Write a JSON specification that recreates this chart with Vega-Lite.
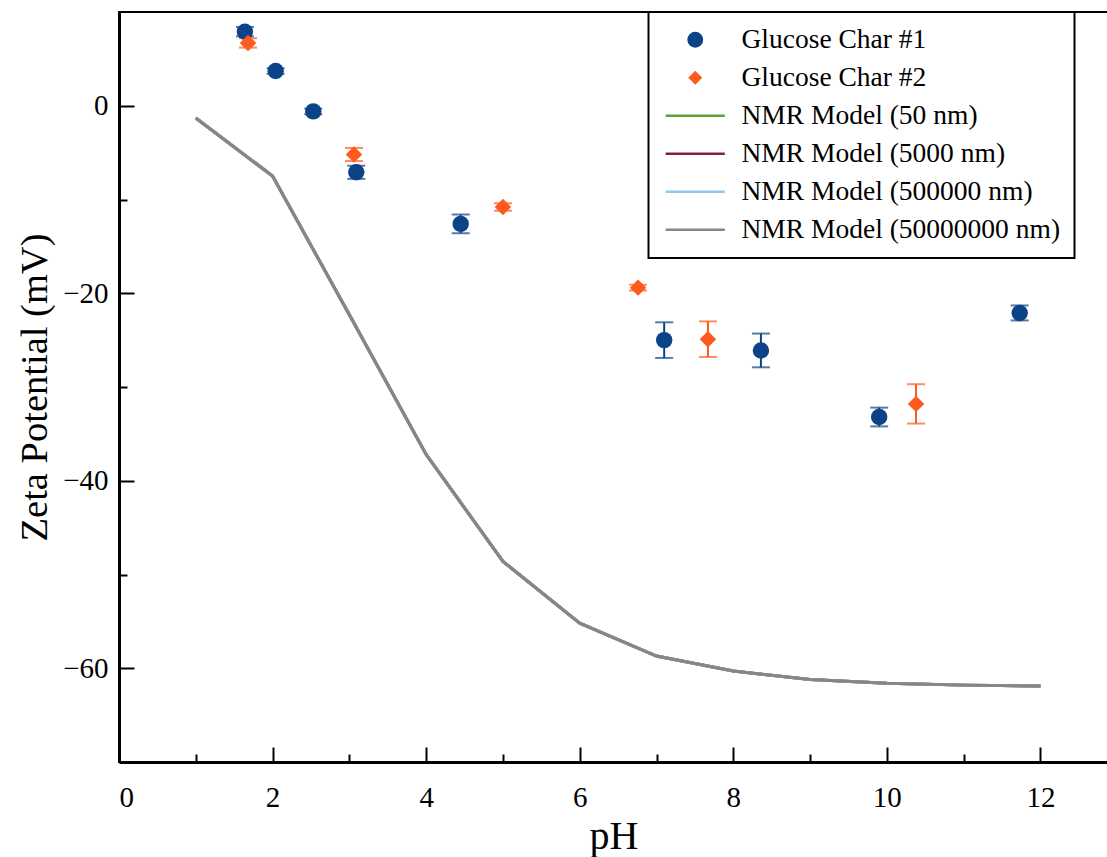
{
  "$schema": "https://vega.github.io/schema/vega-lite/v6.json",
  "width": 989,
  "height": 750,
  "autosize": {"type": "none"},
  "padding": {"left": 119, "top": 12, "right": 0, "bottom": 95},
  "background": "white",
  "config": {
    "font": "Liberation Serif",
    "view": {"stroke": "black", "strokeWidth": 2},
    "axis": {
      "grid": false,
      "domainColor": "black",
      "domainWidth": 3,
      "tickColor": "black",
      "tickWidth": 2,
      "labelColor": "black",
      "titleColor": "black",
      "labelFont": "Liberation Serif",
      "titleFont": "Liberation Serif",
      "labelFontSize": 29,
      "titleFontSize": 38.5,
      "titleFontWeight": "normal"
    }
  },
  "datasets": {
    "meas": [
      {"series": "Glucose Char #1", "pH": 1.64, "zeta": 7.9, "err": 0.5},
      {"series": "Glucose Char #1", "pH": 2.04, "zeta": 3.7, "err": 0.3},
      {"series": "Glucose Char #1", "pH": 2.53, "zeta": -0.6, "err": 0.3},
      {"series": "Glucose Char #1", "pH": 3.09, "zeta": -7.1, "err": 0.7},
      {"series": "Glucose Char #1", "pH": 4.45, "zeta": -12.6, "err": 1.0},
      {"series": "Glucose Char #1", "pH": 7.10, "zeta": -25.0, "err": 1.9},
      {"series": "Glucose Char #1", "pH": 8.36, "zeta": -26.1, "err": 1.8},
      {"series": "Glucose Char #1", "pH": 9.90, "zeta": -33.2, "err": 1.0},
      {"series": "Glucose Char #1", "pH": 11.73, "zeta": -22.1, "err": 0.8},
      {"series": "Glucose Char #2", "pH": 1.68, "zeta": 6.7, "err": 0.5},
      {"series": "Glucose Char #2", "pH": 3.06, "zeta": -5.2, "err": 0.7},
      {"series": "Glucose Char #2", "pH": 5.00, "zeta": -10.8, "err": 0.4},
      {"series": "Glucose Char #2", "pH": 6.76, "zeta": -19.4, "err": 0.3},
      {"series": "Glucose Char #2", "pH": 7.67, "zeta": -24.9, "err": 1.9},
      {"series": "Glucose Char #2", "pH": 10.38, "zeta": -31.8, "err": 2.1}
    ],
    "model": [
      {"series": "NMR Model (50 nm)", "pH": 1, "zeta": -1.3},
      {"series": "NMR Model (50 nm)", "pH": 2, "zeta": -7.5},
      {"series": "NMR Model (50 nm)", "pH": 3, "zeta": -22.3},
      {"series": "NMR Model (50 nm)", "pH": 4, "zeta": -37.2},
      {"series": "NMR Model (50 nm)", "pH": 5, "zeta": -48.6},
      {"series": "NMR Model (50 nm)", "pH": 6, "zeta": -55.2},
      {"series": "NMR Model (50 nm)", "pH": 7, "zeta": -58.7},
      {"series": "NMR Model (50 nm)", "pH": 8, "zeta": -60.3},
      {"series": "NMR Model (50 nm)", "pH": 9, "zeta": -61.2},
      {"series": "NMR Model (50 nm)", "pH": 10, "zeta": -61.6},
      {"series": "NMR Model (50 nm)", "pH": 11, "zeta": -61.8},
      {"series": "NMR Model (50 nm)", "pH": 12, "zeta": -61.9},
      {"series": "NMR Model (5000 nm)", "pH": 1, "zeta": -1.3},
      {"series": "NMR Model (5000 nm)", "pH": 2, "zeta": -7.5},
      {"series": "NMR Model (5000 nm)", "pH": 3, "zeta": -22.3},
      {"series": "NMR Model (5000 nm)", "pH": 4, "zeta": -37.2},
      {"series": "NMR Model (5000 nm)", "pH": 5, "zeta": -48.6},
      {"series": "NMR Model (5000 nm)", "pH": 6, "zeta": -55.2},
      {"series": "NMR Model (5000 nm)", "pH": 7, "zeta": -58.7},
      {"series": "NMR Model (5000 nm)", "pH": 8, "zeta": -60.3},
      {"series": "NMR Model (5000 nm)", "pH": 9, "zeta": -61.2},
      {"series": "NMR Model (5000 nm)", "pH": 10, "zeta": -61.6},
      {"series": "NMR Model (5000 nm)", "pH": 11, "zeta": -61.8},
      {"series": "NMR Model (5000 nm)", "pH": 12, "zeta": -61.9},
      {"series": "NMR Model (500000 nm)", "pH": 1, "zeta": -1.3},
      {"series": "NMR Model (500000 nm)", "pH": 2, "zeta": -7.5},
      {"series": "NMR Model (500000 nm)", "pH": 3, "zeta": -22.3},
      {"series": "NMR Model (500000 nm)", "pH": 4, "zeta": -37.2},
      {"series": "NMR Model (500000 nm)", "pH": 5, "zeta": -48.6},
      {"series": "NMR Model (500000 nm)", "pH": 6, "zeta": -55.2},
      {"series": "NMR Model (500000 nm)", "pH": 7, "zeta": -58.7},
      {"series": "NMR Model (500000 nm)", "pH": 8, "zeta": -60.3},
      {"series": "NMR Model (500000 nm)", "pH": 9, "zeta": -61.2},
      {"series": "NMR Model (500000 nm)", "pH": 10, "zeta": -61.6},
      {"series": "NMR Model (500000 nm)", "pH": 11, "zeta": -61.8},
      {"series": "NMR Model (500000 nm)", "pH": 12, "zeta": -61.9},
      {"series": "NMR Model (50000000 nm)", "pH": 1, "zeta": -1.3},
      {"series": "NMR Model (50000000 nm)", "pH": 2, "zeta": -7.5},
      {"series": "NMR Model (50000000 nm)", "pH": 3, "zeta": -22.3},
      {"series": "NMR Model (50000000 nm)", "pH": 4, "zeta": -37.2},
      {"series": "NMR Model (50000000 nm)", "pH": 5, "zeta": -48.6},
      {"series": "NMR Model (50000000 nm)", "pH": 6, "zeta": -55.2},
      {"series": "NMR Model (50000000 nm)", "pH": 7, "zeta": -58.7},
      {"series": "NMR Model (50000000 nm)", "pH": 8, "zeta": -60.3},
      {"series": "NMR Model (50000000 nm)", "pH": 9, "zeta": -61.2},
      {"series": "NMR Model (50000000 nm)", "pH": 10, "zeta": -61.6},
      {"series": "NMR Model (50000000 nm)", "pH": 11, "zeta": -61.8},
      {"series": "NMR Model (50000000 nm)", "pH": 12, "zeta": -61.9}
    ]
  },
  "layer": [
    {
      "data": {"name": "model"},
      "mark": {"type": "line", "strokeWidth": 3},
      "encoding": {
        "x": {
          "field": "pH", "type": "quantitative",
          "scale": {"domain": [0, 12.88], "nice": false, "zero": false},
          "axis": {"orient": "bottom", "values": [0, 2, 4, 6, 8, 10, 12], "tickSize": -15, "labelPadding": 36, "title": "pH", "titlePadding": 4, "titleFontSize": 40}
        },
        "y": {
          "field": "zeta", "type": "quantitative",
          "scale": {"domain": [-70, 10], "nice": false, "zero": false},
          "axis": {"orient": "left", "values": [-60, -40, -20, 0], "tickSize": -15, "labelPadding": 26, "title": "Zeta Potential (mV)", "titlePadding": 8}
        },
        "color": {
          "field": "series", "type": "nominal",
          "scale": {
            "domain": ["Glucose Char #1", "Glucose Char #2", "NMR Model (50 nm)", "NMR Model (5000 nm)", "NMR Model (500000 nm)", "NMR Model (50000000 nm)"],
            "range": ["#0b4386", "#fd5a1e", "#5da130", "#85203b", "#8ec9f2", "#868686"]
          },
          "legend": {
            "title": null,
            "orient": "none",
            "legendX": 529.5,
            "legendY": 0,
            "strokeColor": "black",
            "fillColor": "white",
            "padding": 14,
            "symbolSize": 3600,
            "symbolStrokeWidth": 2.5,
            "symbolOpacity": 1,
            "symbolOffset": 19,
            "labelFont": "Liberation Serif",
            "labelFontSize": 27.5,
            "labelColor": "black",
            "labelOffset": 32.5,
            "labelLimit": 0,
            "rowPadding": 9,
            "encode": {
              "legend": {"update": {"strokeWidth": {"value": 2}}},
              "symbols": {
                "update": {
                  "shape": {"signal": "datum.value === 'Glucose Char #1' ? 'circle' : datum.value === 'Glucose Char #2' ? 'diamond' : 'stroke'"},
                  "size": {"signal": "datum.value === 'Glucose Char #1' ? 250 : datum.value === 'Glucose Char #2' ? 196 : 3500"},
                  "fill": {"scale": "color", "field": "value"},
                  "stroke": {"scale": "color", "field": "value"},
                  "strokeWidth": {"signal": "datum.value === 'Glucose Char #1' || datum.value === 'Glucose Char #2' ? 0 : 2.5"},
                  "opacity": {"value": 1}
                }
              }
            }
          }
        }
      }
    },
    {
      "data": {"name": "meas"},
      "mark": {"type": "errorbar", "ticks": true, "size": 18, "thickness": 2},
      "encoding": {
        "x": {
          "field": "pH", "type": "quantitative",
          "axis": {"orient": "bottom", "values": [1, 3, 5, 7, 9, 11], "tickSize": -8, "labels": false, "domain": false, "title": null}
        },
        "y": {
          "field": "zeta", "type": "quantitative",
          "axis": {"orient": "left", "values": [-50, -30, -10], "tickSize": -8, "labels": false, "domain": false, "title": null}
        },
        "yError": {"field": "err"},
        "color": {"field": "series", "type": "nominal"}
      }
    },
    {
      "data": {"name": "meas"},
      "mark": {"type": "point", "filled": true, "opacity": 1, "size": 270},
      "encoding": {
        "x": {"field": "pH", "type": "quantitative", "axis": null},
        "y": {"field": "zeta", "type": "quantitative", "axis": null},
        "color": {"field": "series", "type": "nominal"},
        "shape": {
          "field": "series", "type": "nominal",
          "scale": {
            "domain": ["Glucose Char #1", "Glucose Char #2", "NMR Model (50 nm)", "NMR Model (5000 nm)", "NMR Model (500000 nm)", "NMR Model (50000000 nm)"],
            "range": ["circle", "diamond", "stroke", "stroke", "stroke", "stroke"]
          },
          "legend": null
        }
      }
    }
  ],
  "resolve": {"axis": {"x": "independent", "y": "independent"}}
}
